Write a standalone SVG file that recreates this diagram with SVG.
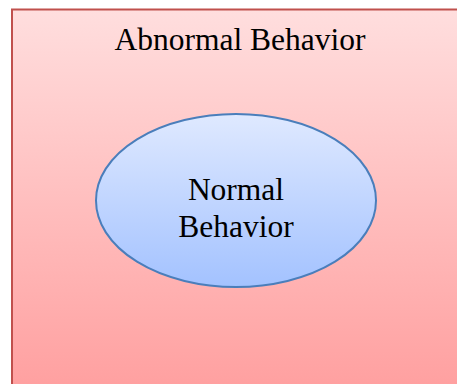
<svg xmlns="http://www.w3.org/2000/svg" width="457" height="384" viewBox="0 0 457 384">
<defs>
<linearGradient id="gr" x1="0" y1="0" x2="0" y2="1">
<stop offset="0" stop-color="#ffdede"/>
<stop offset="1" stop-color="#ff9e9e"/>
</linearGradient>
<linearGradient id="gb" x1="0" y1="0" x2="0" y2="1">
<stop offset="0" stop-color="#dfe9ff"/>
<stop offset="1" stop-color="#a3c2ff"/>
</linearGradient>
</defs>
<style>
text{font-family:"Liberation Serif","Times New Roman",serif;fill:#000;text-anchor:middle;font-size:31.5px}
</style>
<g id="abnormal">
<rect x="12" y="9.5" width="460" height="390" fill="url(#gr)" stroke="#c0504d" stroke-width="2"/>
<text x="240" y="50">Abnormal Behavior</text>
</g>
<g id="normal">
<ellipse cx="236" cy="200.5" rx="140" ry="86.5" fill="url(#gb)" stroke="#4a7ebb" stroke-width="2"/>
<text x="236" y="200">Normal</text>
<text x="236" y="237">Behavior</text>
</g>
<g id="connectors"/>
</svg>
